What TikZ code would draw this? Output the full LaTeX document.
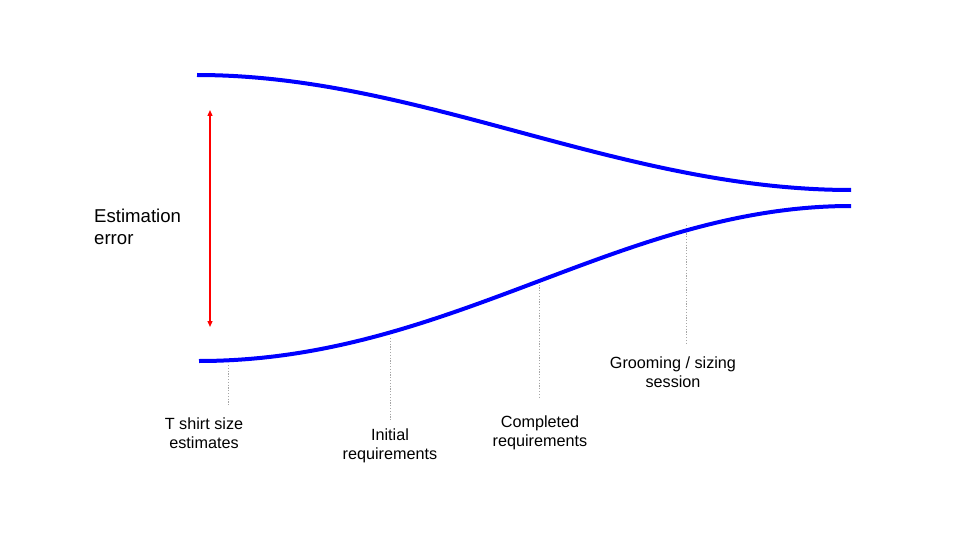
\documentclass[tikz,border=0pt]{standalone}
\usepackage{fontspec}
\setmainfont{Liberation Sans}
\usetikzlibrary{arrows.meta}
\begin{document}
\begin{tikzpicture}[x=1pt,y=-1pt,
  curve/.style={draw=blue,line width=4pt},
  guide/.style={draw=gray!70,line width=0.8pt,dash pattern=on 1.2pt off 1.6pt},
  lbl/.style={align=center,font=\fontsize{16.2}{18.5}\selectfont,inner sep=0pt},
  errarrow/.style={draw=red,line width=1.3pt,{Triangle[length=6pt,width=5pt]}-{Triangle[length=6pt,width=5pt]}}]
\useasboundingbox (0,0) rectangle (960,540);
\coordinate (u0) at (197,75);
\coordinate (u1) at (851,190);
\coordinate (l0) at (199,361);
\coordinate (l1) at (851,206);
% guides
\coordinate (gt0) at (228,365); \coordinate (gt1) at (228,406);
\coordinate (gi0) at (390,338); \coordinate (gi1) at (390,421);
\coordinate (gc0) at (539,279); \coordinate (gc1) at (539,397);
\coordinate (gg0) at (686,225); \coordinate (gg1) at (686,343);
\draw[guide] (gt0) -- (gt1);
\draw[guide] (gi0) -- (gi1);
\draw[guide] (gc0) -- (gc1);
\draw[guide] (gg0) -- (gg1);
\draw[curve] (u0) .. controls (420,75) and (620,190) .. (u1);
\draw[curve] (l0) .. controls (450,361) and (620,206) .. (l1);
% red arrow
\coordinate (a0) at (210,110);
\coordinate (a1) at (210,327);
\draw[errarrow] (a0) -- (a1);
\node[anchor=west,align=left,font=\fontsize{18.6}{22}\selectfont,inner sep=0pt] (err) at (94,227) {Estimation\\error};
% labels
\node[lbl] (t) at (204,433) {T shirt size\\estimates};
\node[lbl] (i) at (390,446) {Initial\\requirements};
\node[lbl] (c) at (540,433) {Completed\\requirements};
\node[lbl] (g) at (673,372) {Grooming / sizing\\session};
\end{tikzpicture}
\end{document}
